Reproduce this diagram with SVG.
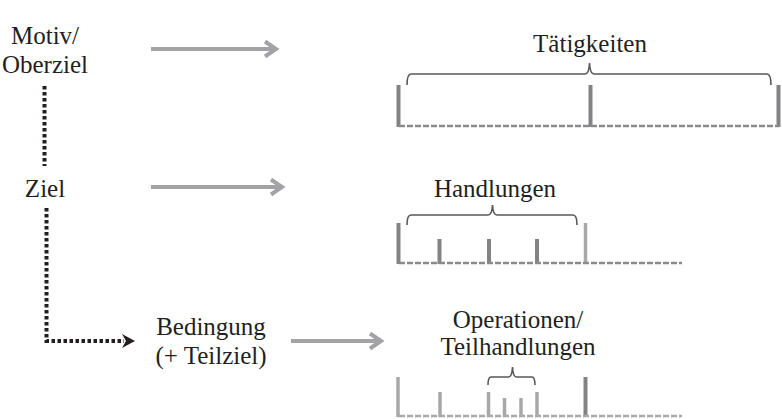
<svg xmlns="http://www.w3.org/2000/svg" width="782" height="419" viewBox="0 0 782 419">
<style>
text{font-family:"Liberation Serif","Times New Roman",serif;font-size:25px;fill:#231f20;text-anchor:middle}
.arr{stroke:#a3a3a5;stroke-width:4;fill:none}
.head{stroke:#a3a3a5;stroke-width:4;fill:none;stroke-linejoin:miter;stroke-linecap:butt}
.dot{stroke:#231f20;stroke-width:4;fill:none;stroke-dasharray:3.5 2.5}
.bar{stroke:#838386;stroke-width:4}
.barL{stroke:#a8a8aa;stroke-width:3.5}
.dash{stroke:#8a8a8c;stroke-width:2.5;stroke-dasharray:6 2}
.dashL{stroke:#a8a8aa;stroke-width:2.5;stroke-dasharray:6 2}
.brace{stroke:#58585a;stroke-width:1.6;fill:none}
</style>
<g id="connectors">
<line class="arr" x1="151" y1="49" x2="275" y2="49"/>
<polyline class="head" points="265,41.5 276,49 265,56.5"/>
<line class="arr" x1="151" y1="187" x2="281" y2="187"/>
<polyline class="head" points="271,179.5 282,187 271,194.5"/>
<line class="arr" x1="291" y1="341" x2="380" y2="341"/>
<polyline class="head" points="370,333.5 381,341 370,348.5"/>
<line class="dot" x1="44.5" y1="86" x2="44.5" y2="166"/>
<polyline class="dot" points="46.5,208 46.5,341 124,341"/>
<polygon points="122,334 135,341 122,348 126,341" fill="#231f20"/>
</g>
<g id="motiv">
<text x="45" y="44">Motiv/</text>
<text x="45" y="73">Oberziel</text>
</g>
<g id="ziel">
<text x="45" y="197">Ziel</text>
</g>
<g id="bedingung">
<text x="211" y="335">Bedingung</text>
<text x="211" y="364">(+ Teilziel)</text>
</g>
<g id="taetigkeiten">
<text x="590" y="52">Tätigkeiten</text>
<path class="brace" d="M407,85 Q407,74 411,74 L585,74 Q589,74 589.5,63 Q590,74 594,74 L767,74 Q771,74 771,85"/>
<line class="bar" x1="398.5" y1="85" x2="398.5" y2="127"/>
<line class="bar" x1="590.5" y1="85" x2="590.5" y2="127"/>
<line class="bar" x1="778.5" y1="85" x2="778.5" y2="127"/>
<line class="dash" x1="399" y1="126" x2="779" y2="126"/>
</g>
<g id="handlungen">
<text x="495" y="197">Handlungen</text>
<path class="brace" d="M407,225 Q407,215 411,215 L488,215 Q492,215 492.5,205 Q493,215 497,215 L573,215 Q577,215 577,225"/>
<line class="bar" x1="398.5" y1="223" x2="398.5" y2="264"/>
<line class="bar" x1="439.5" y1="239" x2="439.5" y2="264"/>
<line class="bar" x1="489" y1="239" x2="489" y2="264"/>
<line class="bar" x1="537" y1="239" x2="537" y2="264"/>
<line class="barL" x1="585.5" y1="223" x2="585.5" y2="264"/>
<line class="dash" x1="399" y1="263" x2="682" y2="263"/>
</g>
<g id="operationen">
<text x="518" y="328">Operationen/</text>
<text x="518" y="355">Teilhandlungen</text>
<path class="brace" d="M488,385 Q488,377 491,377 L508.5,377 Q512,377 512.5,367 Q513,377 516.5,377 L532,377 Q535,377 535,385"/>
<line class="barL" x1="398" y1="377" x2="398" y2="417"/>
<line class="barL" x1="440" y1="392" x2="440" y2="417"/>
<line class="barL" x1="488.5" y1="392" x2="488.5" y2="417"/>
<line class="barL" x1="504.5" y1="398" x2="504.5" y2="417"/>
<line class="barL" x1="521" y1="398" x2="521" y2="417"/>
<line class="barL" x1="537" y1="392" x2="537" y2="417"/>
<line class="bar" x1="585.5" y1="377" x2="585.5" y2="417"/>
<line class="dashL" x1="399" y1="416" x2="682" y2="416"/>
</g>
</svg>
